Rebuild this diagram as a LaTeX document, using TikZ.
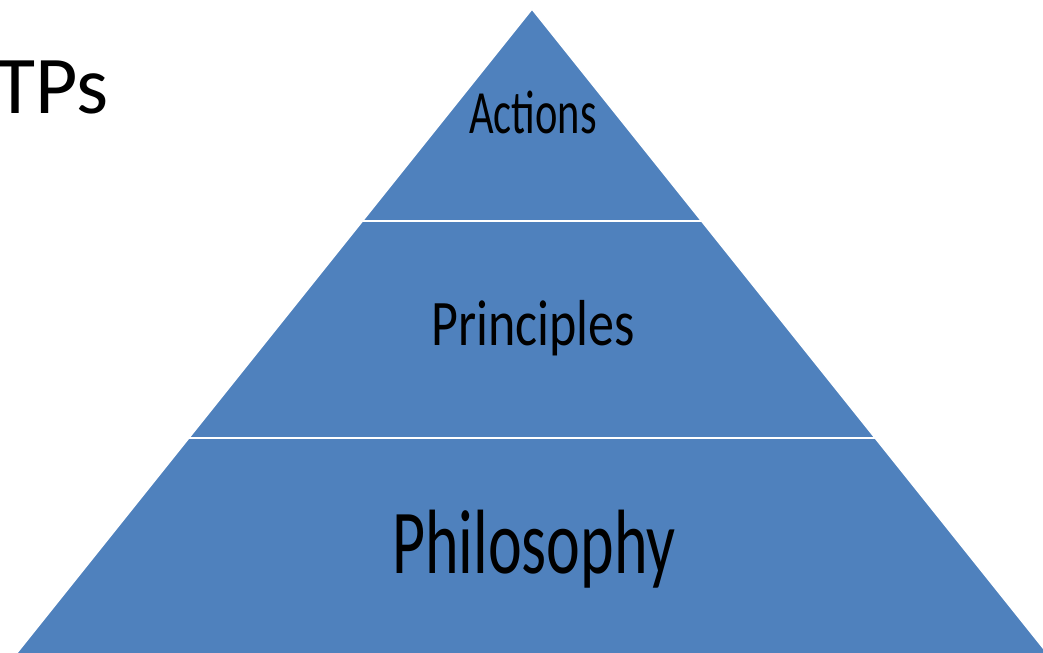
\documentclass[tikz,border=0pt]{standalone}
\usepackage{fontspec}
\setmainfont{Carlito}
\newfontfamily\actfont[FakeStretch=0.69]{Carlito}
\newfontfamily\prifont[FakeStretch=0.80]{Carlito}
\newfontfamily\phifont[FakeStretch=0.70]{Carlito}
\usetikzlibrary{positioning}
\definecolor{layerblue}{RGB}{79,129,189}
\tikzset{
  layer/.style={fill=layerblue, draw=white, line width=0.9pt, line join=miter},
  lbl/.style={anchor=base, inner sep=0pt, text=black},
  title/.style={anchor=base west, inner sep=0pt, font=\fontsize{46.7}{50}\selectfont}
}
\begin{document}
\begin{tikzpicture}[x=0.02cm, y=-0.02cm]
	\useasboundingbox (0,0) rectangle (1043,652);
	% layers of the pyramid
	\coordinate (apex) at (532,9);
	\coordinate (al) at (362.4,221);
	\coordinate (ar) at (701.6,221);
	\coordinate (pl) at (188.8,438);
	\coordinate (pr) at (875.2,438);
	\coordinate (bl) at (11.2,660);
	\coordinate (br) at (1052.8,660);
	\draw[layer] (apex) -- (ar) -- (al) -- cycle;
	\draw[layer] (al) -- (ar) -- (pr) -- (pl) -- cycle;
	\draw[layer] (pl) -- (pr) -- (br) -- (bl) -- cycle;
	%
	\node[title] (tps) at (-5,113) {TPs};
	\node[lbl, font=\actfont\fontsize{35}{38}\selectfont] (actions) at (533,133) {Actions};
	\node[lbl, font=\prifont\fontsize{37}{40}\selectfont] (principles) at (533,345) {Principles};
	\node[lbl, font=\phifont\fontsize{52}{56}\selectfont] (philosophy) at (534,573) {Philosophy};
\end{tikzpicture}
\end{document}
